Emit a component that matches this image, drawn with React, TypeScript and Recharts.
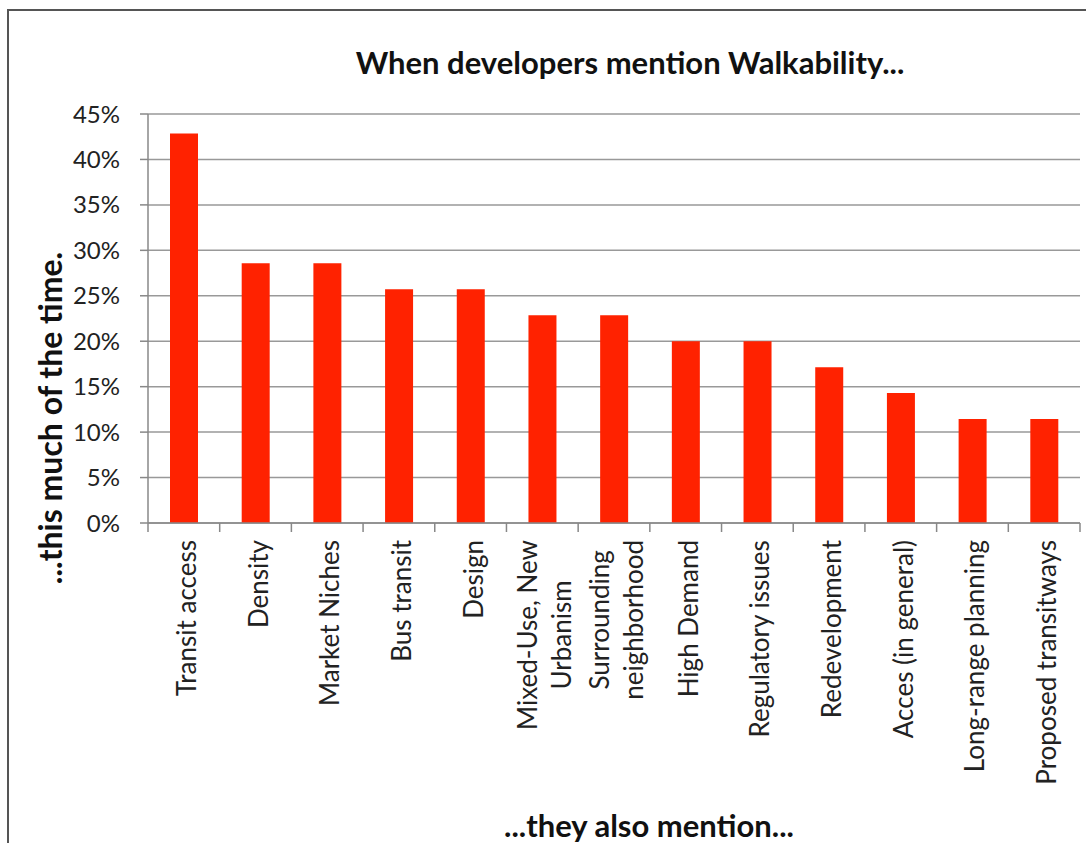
import React from 'react';
import { BarChart, Bar, XAxis, YAxis, CartesianGrid } from 'recharts';

// categories ('\n' marks where the axis label wraps)
const categories = [
  'Transit access',
  'Density',
  'Market Niches',
  'Bus transit',
  'Design',
  'Mixed-Use, New\nUrbanism',
  'Surrounding\nneighborhood',
  'High Demand',
  'Regulatory issues',
  'Redevelopment',
  'Acces (in general)',
  'Long-range planning',
  'Proposed transitways',
];

// share of mentions (fraction)
const shares = [0.4286, 0.2857, 0.2857, 0.2571, 0.2571, 0.2286, 0.2286, 0.2, 0.2, 0.1714, 0.1429, 0.1143, 0.1143];

const yTicks = [0, 0.05, 0.1, 0.15, 0.2, 0.25, 0.3, 0.35, 0.4, 0.45];

const chartTitle = 'When developers mention Walkability...';
const yTitle = '...this much of the time.';
const xTitle = '...they also mention...';

const data = categories.map((name, i) => ({ name, share: shares[i] }));

const FONT = 'Lato, "Open Sans", sans-serif';
const W = 1086;
const H = 843;
const PLOT_LEFT = 148;
const PLOT_RIGHT = 1080;
const BAND = (PLOT_RIGHT - PLOT_LEFT) / categories.length;
const LABEL_SIZE = 26;

let measureCtx: CanvasRenderingContext2D | null = null;
const measure = (s: string) => {
  if (!measureCtx) {
    measureCtx = document.createElement('canvas').getContext('2d');
  }
  if (!measureCtx) return s.length * LABEL_SIZE * 0.5;
  measureCtx.font = `${LABEL_SIZE}px ${FONT}`;
  return measureCtx.measureText(s).width;
};

const CategoryTick = ({ x, y, payload, index }: any) => {
  const axisY = y - 17;
  const lines: string[] = String(payload.value).split('\n');
  const longest = Math.max(...lines.map(measure));
  const midY = y + longest / 2;
  return (
    <g>
      <line x1={x - BAND / 2} x2={x - BAND / 2} y1={axisY} y2={axisY + 9} stroke="#888" strokeWidth={1.5} />
      {index === categories.length - 1 && (
        <line x1={x + BAND / 2} x2={x + BAND / 2} y1={axisY} y2={axisY + 9} stroke="#888" strokeWidth={1.5} />
      )}
      {lines.map((ln, i) => {
        const lx = x + (i - (lines.length - 1) / 2) * 34 + 2;
        return (
          <text
            key={i}
            x={lx}
            y={midY}
            textAnchor="middle"
            dominantBaseline="central"
            transform={`rotate(-90, ${lx}, ${midY})`}
            fontSize={LABEL_SIZE}
            fontFamily={FONT}
            fill="#222"
          >
            {ln}
          </text>
        );
      })}
    </g>
  );
};

const App = () => {
  return (
    <div style={{ position: 'absolute', left: 0, top: 0, width: W, height: H, overflow: 'hidden', background: '#fff' }}>
      <div
        style={{
          position: 'absolute',
          left: 7,
          top: 9,
          width: W + 40,
          height: H + 40,
          border: '2px solid #555',
        }}
      />
      <div
        style={{
          position: 'absolute',
          left: 0,
          width: 1260,
          top: 42,
          textAlign: 'center',
          fontFamily: FONT,
          fontWeight: 700,
          fontSize: 31,
          color: '#111',
          lineHeight: '40px',
        }}
      >
        {chartTitle}
      </div>
      <div
        style={{
          position: 'absolute',
          left: 50 - 250,
          top: 418 - 20,
          width: 500,
          textAlign: 'center',
          transform: 'rotate(-90deg)',
          fontFamily: FONT,
          fontWeight: 700,
          fontSize: 32,
          color: '#111',
          lineHeight: '40px',
        }}
      >
        {yTitle}
      </div>
      <div
        style={{
          position: 'absolute',
          left: 649 - 250,
          top: 810,
          width: 500,
          textAlign: 'center',
          fontFamily: FONT,
          fontWeight: 700,
          fontSize: 31,
          color: '#111',
          lineHeight: '31px',
        }}
      >
        {xTitle}
      </div>
      <div style={{ position: 'absolute', left: 0, top: 0 }}>
        <BarChart width={W} height={H} data={data} margin={{ top: 114, right: 6, bottom: 0, left: 8 }}>
          <CartesianGrid vertical={false} stroke="#999" strokeWidth={1.5} />
          <XAxis
            dataKey="name"
            interval={0}
            height={320}
            tickLine={false}
            tickSize={8}
            tickMargin={9}
            axisLine={{ stroke: '#888', strokeWidth: 1.5 }}
            tick={<CategoryTick />}
          />
          <YAxis
            width={140}
            domain={[0, 0.45]}
            ticks={yTicks}
            tickFormatter={(v: number) => `${Math.round(v * 100)}%`}
            tickSize={8}
            tickMargin={20}
            tickLine={{ stroke: '#888', strokeWidth: 1.5 }}
            axisLine={{ stroke: '#888', strokeWidth: 1.5 }}
            tick={{ fill: '#222', fontSize: 24, fontFamily: FONT }}
          />
          <YAxis
            yAxisId="right"
            orientation="right"
            width={0}
            domain={[0, 0.45]}
            tick={false}
            tickLine={false}
            axisLine={{ stroke: '#888', strokeWidth: 1.5 }}
          />
          <Bar dataKey="share" fill="#ff2200" barSize={28} isAnimationActive={false} />
        </BarChart>
      </div>
    </div>
  );
};

export default App;
